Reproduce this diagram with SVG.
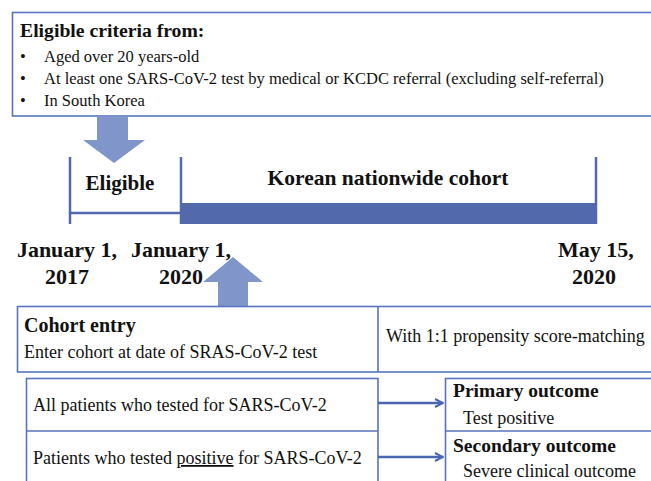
<svg xmlns="http://www.w3.org/2000/svg" width="651" height="481" viewBox="0 0 651 481" font-family="Liberation Serif, Tinos, DejaVu Serif, serif">
<style>
text{font-family:'Liberation Serif','Tinos','DejaVu Serif',serif;fill:#111}
.b{font-weight:bold}
.box{fill:#fff;stroke:#5673bd;stroke-width:1.6}
.ln{stroke:#5673bd;stroke-width:1.6;fill:none}
.tl{stroke:#5269b0;stroke-width:2.5;fill:none}
.bigarrow{fill:#8096cb}
.con{stroke:#4a66b2;stroke-width:2.5;fill:none}
</style>
<defs>
<marker id="ah" viewBox="0 0 10 10" refX="9" refY="5" markerWidth="4" markerHeight="4" orient="auto" markerUnits="strokeWidth">
<path d="M1,1 L9,5 L1,9" fill="none" stroke="#4a66b2" stroke-width="2"/>
</marker>
</defs>
<rect width="651" height="481" fill="#fff"/>

<g id="criteria">
<rect class="box" x="12.5" y="12.5" width="640" height="103.5"/>
<text class="b" x="20" y="37" font-size="19.7">Eligible criteria from:</text>
<text x="20" y="62" font-size="16.5">•</text>
<text x="44" y="62" font-size="16.5">Aged over 20 years-old</text>
<text x="20" y="84" font-size="16.5">•</text>
<text x="44" y="84" font-size="16.5">At least one SARS-CoV-2 test by medical or KCDC referral (excluding self-referral)</text>
<text x="20" y="106" font-size="16.5">•</text>
<text x="44" y="106" font-size="16.5">In South Korea</text>
</g>

<g id="arrow-down">
<path class="bigarrow" d="M97,116.5 H128 V140 H145 L114,163 L83,140 H97 Z"/>
</g>

<g id="timeline">
<line class="tl" x1="70" y1="157" x2="70" y2="224"/>
<line class="tl" x1="181" y1="157" x2="181" y2="224"/>
<line class="tl" x1="70" y1="213" x2="181" y2="213"/>
<rect x="181" y="203" width="415" height="21" fill="#5269ab"/>
<line class="tl" x1="596" y1="157" x2="596" y2="224"/>
<text class="b" x="120" y="190" font-size="21" text-anchor="middle">Eligible</text>
<text class="b" x="388" y="185" font-size="21.5" text-anchor="middle">Korean nationwide cohort</text>
<text class="b" x="67" y="257" font-size="22" text-anchor="middle">January 1,</text>
<text class="b" x="67" y="284" font-size="22" text-anchor="middle">2017</text>
<text class="b" x="181" y="257" font-size="22" text-anchor="middle">January 1,</text>
<text class="b" x="181" y="284" font-size="22" text-anchor="middle">2020</text>
<text class="b" x="596" y="257" font-size="22" text-anchor="middle">May 15,</text>
<text class="b" x="594" y="284" font-size="22" text-anchor="middle">2020</text>
</g>

<g id="arrow-up">
<path class="bigarrow" d="M218,306 V282 H203 L233,257 L263,282 H248 V306 Z"/>
</g>

<g id="cohort-entry">
<rect class="box" x="17.5" y="306.5" width="640" height="65.5"/>
<line class="ln" x1="378" y1="306.5" x2="378" y2="372"/>
<text class="b" x="24" y="332" font-size="20">Cohort entry</text>
<text x="24" y="358" font-size="18">Enter cohort at date of SRAS-CoV-2 test</text>
<text x="386" y="342" font-size="18">With 1:1 propensity score-matching</text>
</g>

<g id="populations">
<rect class="box" x="26.5" y="378.5" width="351.5" height="110"/>
<line class="ln" x1="26.5" y1="431" x2="378" y2="431"/>
<text x="33" y="411" font-size="18">All patients who tested for SARS-CoV-2</text>
<text x="33" y="464" font-size="18">Patients who tested <tspan text-decoration="underline">positive</tspan> for SARS-CoV-2</text>
</g>

<g id="outcomes">
<rect class="box" x="445.5" y="378.5" width="220" height="110"/>
<line class="ln" x1="445.5" y1="431" x2="651" y2="431"/>
<text class="b" x="453" y="397" font-size="19.5">Primary outcome</text>
<text x="463" y="424" font-size="18">Test positive</text>
<text class="b" x="453" y="452" font-size="19.5">Secondary outcome</text>
<text x="463" y="477" font-size="18">Severe clinical outcome</text>
</g>

<g id="connectors">
<line class="con" x1="378" y1="403" x2="443" y2="403" marker-end="url(#ah)"/>
<line class="con" x1="378" y1="457" x2="443" y2="457" marker-end="url(#ah)"/>
</g>
</svg>
